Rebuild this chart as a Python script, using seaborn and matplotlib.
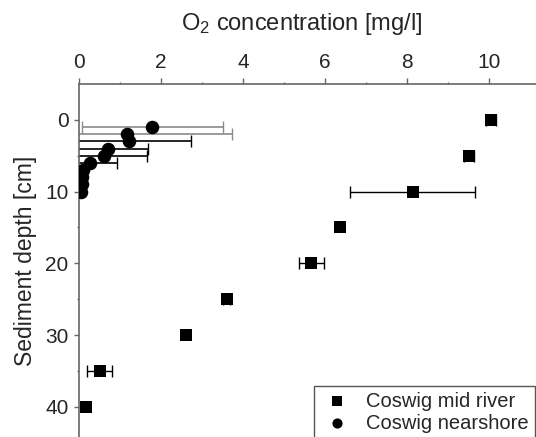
import numpy as np
import pandas as pd
import matplotlib
matplotlib.use("Agg")
import matplotlib.pyplot as plt
from matplotlib.ticker import FixedLocator
import seaborn as sns

# Data
MID_DEPTH = [0, 5, 10, 15, 20, 25, 30, 35, 40]
MID_O2 = [10.05, 9.51, 8.14, 6.37, 5.67, 3.60, 2.60, 0.50, 0.16]
MID_ERR = [0.12, 0.12, 1.53, 0.0, 0.30, 0.08, 0.0, 0.30, 0.0]

NEAR_DEPTH = [1, 2, 3, 4, 5, 6, 7, 8, 9, 10]
NEAR_O2 = [1.79, 1.18, 1.22, 0.71, 0.62, 0.28, 0.10, 0.08, 0.07, 0.05]
NEAR_ERR = [1.71, 2.56, 1.52, 0.98, 1.04, 0.65, 0.0, 0.0, 0.0, 0.0]
NEAR_ECOL = ["#8a8a8a", "#8a8a8a", "black", "black", "black", "black",
             "black", "black", "black", "black"]

LABELS = ["Coswig mid river", "Coswig nearshore"]
X_MAJOR = [0, 2, 4, 6, 8, 10]
X_MINOR = [1, 3, 5, 7, 9]
Y_MAJOR = [0, 10, 20, 30, 40]
Y_MINOR = [5, 15, 25, 35]

sns.set_style("ticks")
plt.rcParams["font.family"] = ["Liberation Sans", "DejaVu Sans"]
plt.rcParams["mathtext.default"] = "regular"

W, H = 536, 437
fig = plt.figure(figsize=(W / 100, H / 100), dpi=100)
ax = fig.add_axes([79 / W, 0, 463.3 / W, 353 / H])

mid = pd.DataFrame({"o2": MID_O2, "depth": MID_DEPTH, "err": MID_ERR})
near = pd.DataFrame({"o2": NEAR_O2, "depth": NEAR_DEPTH, "err": NEAR_ERR})

# error bars first, markers on top
for _, r in mid.iterrows():
    if r["err"] > 0:
        ax.errorbar(r["o2"], r["depth"], xerr=r["err"], fmt="none",
                    ecolor="black", elinewidth=1.0, capsize=4, capthick=1.0, zorder=2)
for (_, r), c in zip(near.iterrows(), NEAR_ECOL):
    if r["err"] > 0:
        ax.errorbar(r["o2"], r["depth"], xerr=r["err"], fmt="none",
                    ecolor=c, elinewidth=1.2, capsize=4, capthick=1.0, zorder=2)

sns.scatterplot(data=mid, x="o2", y="depth", marker="s", s=80, color="black",
                edgecolor="black", linewidth=0, ax=ax, zorder=3, label=LABELS[0])
sns.scatterplot(data=near, x="o2", y="depth", marker="o", s=95, color="black",
                edgecolor="black", linewidth=0, ax=ax, zorder=3, label=LABELS[1])

ax.set_xlim(0, 11.3)
ax.set_ylim(44.2, -5)

ax.xaxis.tick_top()
ax.xaxis.set_label_position("top")
ax.xaxis.set_major_locator(FixedLocator(X_MAJOR))
ax.xaxis.set_minor_locator(FixedLocator(X_MINOR))
ax.yaxis.set_major_locator(FixedLocator(Y_MAJOR))
ax.yaxis.set_minor_locator(FixedLocator(Y_MINOR))

spine_col = "#666666"
for side in ["right", "bottom"]:
    ax.spines[side].set_visible(False)
for side in ["top", "left"]:
    ax.spines[side].set_color(spine_col)
    ax.spines[side].set_linewidth(1.2)

ax.tick_params(axis="x", which="major", direction="out", length=4.3, width=1.0,
               color=spine_col, labelsize=15, pad=4.5, top=True, bottom=False)
ax.tick_params(axis="x", which="minor", direction="out", length=1.8, width=1.0,
               color=spine_col, top=True, bottom=False)
ax.tick_params(axis="y", which="major", direction="out", length=3.6, width=1.0,
               color=spine_col, labelsize=15, pad=4)
ax.tick_params(axis="y", which="minor", direction="out", length=1.8, width=1.0,
               color=spine_col)

ax.set_xlabel("O$_2$ concentration [mg/l]", fontsize=17)
ax.xaxis.set_label_coords(0.48, 1.152)
ax.set_ylabel("Sediment depth [cm]", fontsize=16.5, labelpad=6)

handles, labels = ax.get_legend_handles_labels()
ax.legend(handles, labels, loc="upper left", bbox_to_anchor=(314 / W, 1 - 385.7 / H),
          bbox_transform=fig.transFigure, fontsize=14.5, frameon=True, fancybox=False,
          edgecolor="#555555", framealpha=1, borderpad=0.3, labelspacing=0.15,
          handlelength=1.7, handletextpad=0.6, borderaxespad=0, markerscale=0.75)
ax.get_legend().get_frame().set_linewidth(1.0)

fig.savefig("out.png", dpi=100)
